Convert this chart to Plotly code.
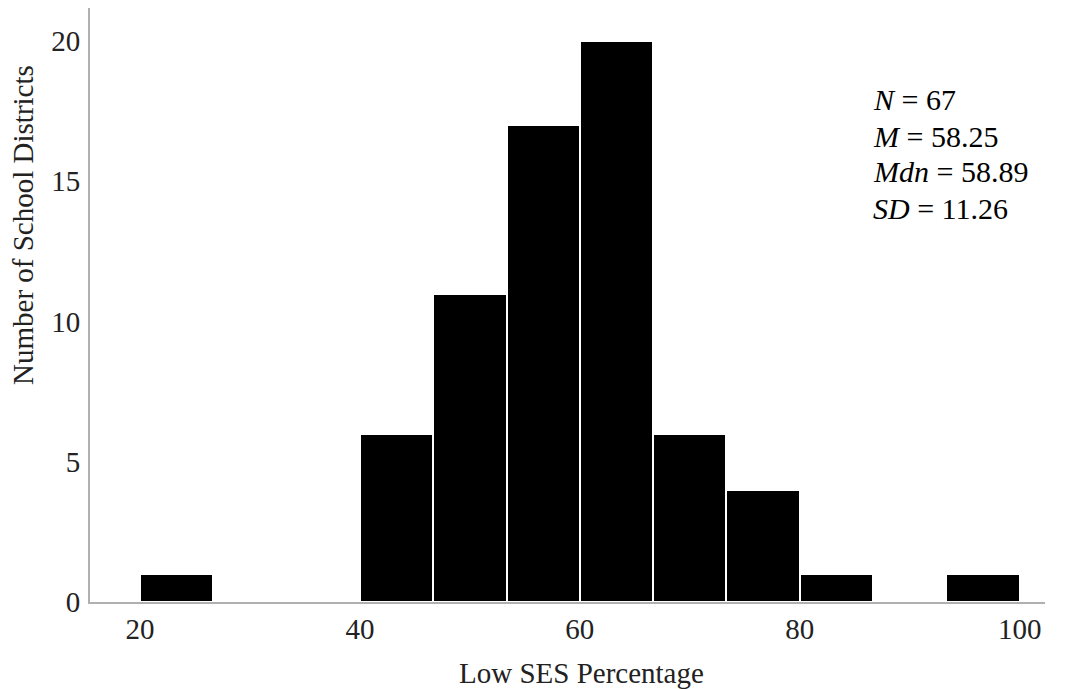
import plotly.graph_objects as go

# Histogram data
bin_lefts = [20.0, 26.667, 33.333, 40.0, 46.667, 53.333, 60.0, 66.667, 73.333, 80.0, 86.667, 93.333]
bin_width = 6.667
counts = [1, 0, 0, 6, 11, 17, 20, 6, 4, 1, 0, 1]
x_ticks = [20, 40, 60, 80, 100]
y_ticks = [0, 5, 10, 15, 20]
stats_lines = ["<i>N</i> = 67", "<i>M</i> = 58.25", "<i>Mdn</i> = 58.89", "<i>SD</i> = 11.26"]
x_title = "Low SES Percentage"
y_title = "Number of School Districts"

FONT = "Liberation Serif"
TXT = "#222222"

fig = go.Figure()
fig.add_trace(go.Bar(
    x=[b + bin_width / 2 for b in bin_lefts],
    y=counts,
    width=[bin_width] * len(bin_lefts),
    marker=dict(color="black", line=dict(color="white", width=2)),
    hoverinfo="skip",
))

# page body has an 8px default margin, so the figure is sized 1060x681
fig.update_layout(
    width=1060, height=681,
    margin=dict(l=82, r=23, t=0, b=87),
    paper_bgcolor="white", plot_bgcolor="white",
    showlegend=False,
    bargap=0,
    font=dict(family=FONT, size=29, color=TXT),
    xaxis=dict(
        range=[15.45, 102.3],
        tickvals=x_ticks,
        ticks="", showgrid=False, zeroline=False, automargin=False,
        showline=True, linecolor="#b0b0b0", linewidth=2,
        tickfont=dict(family=FONT, size=29, color=TXT),
        ticklabelstandoff=0,
    ),
    yaxis=dict(
        range=[0, 21.18],
        tickvals=y_ticks,
        ticks="", showgrid=False, zeroline=False, automargin=False,
        showline=True, linecolor="#b0b0b0", linewidth=2,
        tickfont=dict(family=FONT, size=29, color=TXT),
        ticklabelstandoff=2,
    ),
)

# axis titles
fig.add_annotation(
    xref="paper", yref="paper", x=0.5145, y=-0.1195,
    xanchor="center", yanchor="middle", text=x_title, showarrow=False,
    font=dict(family=FONT, size=29, color=TXT),
)
fig.add_annotation(
    xref="paper", yref="paper", x=-0.07, y=0.635,
    xanchor="center", yanchor="middle", textangle=-90, text=y_title, showarrow=False,
    font=dict(family=FONT, size=29, color=TXT),
)

# summary statistics, one line each (36 px line pitch)
for i, line in enumerate(stats_lines):
    fig.add_annotation(
        xref="paper", yref="paper", x=0.818, y=(602 - 100 - 36 * i) / 594,
        xanchor="left", yanchor="middle", align="left",
        text=line, showarrow=False,
        font=dict(family=FONT, size=30, color="black"),
    )

fig.write_html("out.html")
